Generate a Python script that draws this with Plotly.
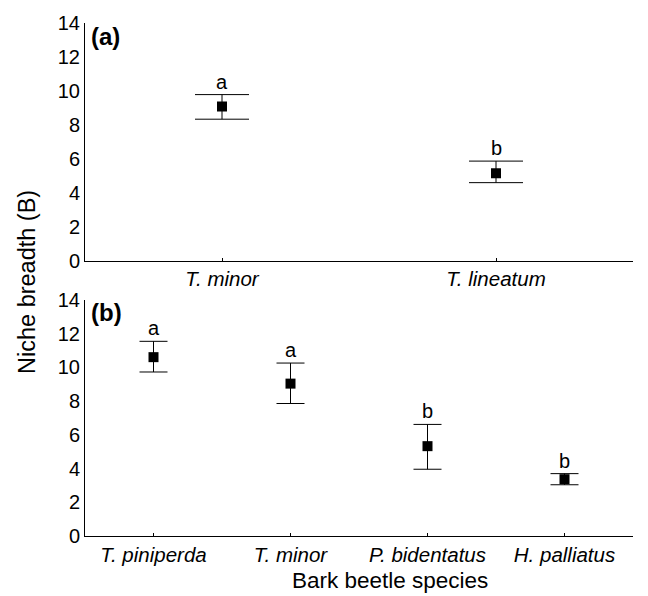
import plotly.graph_objects as go

# Panel (a)
cats_a = ["T. minor", "T. lineatum"]
mean_a = [9.08, 5.15]
upper_a = [9.78, 5.86]
lower_a = [8.33, 4.59]
letters_a = ["a", "b"]

# Panel (b)
cats_b = ["T. piniperda", "T. minor", "P. bidentatus", "H. palliatus"]
mean_b = [10.61, 9.04, 5.33, 3.37]
upper_b = [11.55, 10.26, 6.62, 3.70]
lower_b = [9.73, 7.86, 3.96, 3.04]
letters_b = ["a", "a", "b", "b"]

y_ticks = [0, 2, 4, 6, 8, 10, 12, 14]

FONT = "Liberation Sans, Arial, sans-serif"

fig = go.Figure()

def add_panel(cats, mean, upper, lower, xa, ya, capw):
    fig.add_trace(go.Scatter(
        x=list(range(len(cats))), y=mean, mode="markers",
        marker=dict(symbol="square", size=10, color="black"),
        error_y=dict(type="data", symmetric=False,
                     array=[u - m for u, m in zip(upper, mean)],
                     arrayminus=[m - l for m, l in zip(mean, lower)],
                     color="black", thickness=1, width=capw),
        xaxis=xa, yaxis=ya, showlegend=False, hoverinfo="skip"))

add_panel(cats_a, mean_a, upper_a, lower_a, "x", "y", 27)
add_panel(cats_b, mean_b, upper_b, lower_b, "x2", "y2", 14)

ax_common = dict(showline=True, linecolor="black", linewidth=1, showgrid=False,
                 zeroline=False, mirror=False)

fig.update_layout(
    width=648, height=596,
    margin=dict(l=85, r=15, t=21, b=60),
    paper_bgcolor="white", plot_bgcolor="white",
    font=dict(family=FONT, color="black"),
    xaxis=dict(domain=[0, 1], anchor="y", range=[-0.5, 1.5],
               tickvals=list(range(len(cats_a))), ticktext=cats_a,
               ticks="inside", ticklen=3, tickcolor="black",
               tickfont=dict(size=20.5, family=FONT, style="italic"), **ax_common),
    yaxis=dict(domain=[0.537, 1.0], anchor="x", range=[0, 14],
               tickvals=y_ticks, ticks="", tickfont=dict(size=20, family=FONT),
               **ax_common),
    xaxis2=dict(domain=[0, 1], anchor="y2", range=[-0.5, 3.5],
                tickvals=list(range(len(cats_b))), ticktext=cats_b,
                ticks="inside", ticklen=3, tickcolor="black",
                tickfont=dict(size=20.5, family=FONT, style="italic"), **ax_common),
    yaxis2=dict(domain=[0.0, 0.46], anchor="x2", range=[0, 14],
                tickvals=y_ticks, ticks="", tickfont=dict(size=20, family=FONT),
                **ax_common),
)

annotations = []
for i, (u, t) in enumerate(zip(upper_a, letters_a)):
    annotations.append(dict(x=i, y=u, xref="x", yref="y", text=t, showarrow=False,
                            yanchor="bottom", yshift=0, font=dict(size=20, family=FONT)))
for i, (u, t) in enumerate(zip(upper_b, letters_b)):
    annotations.append(dict(x=i, y=u, xref="x2", yref="y2", text=t, showarrow=False,
                            yanchor="bottom", yshift=0, font=dict(size=20, family=FONT)))

annotations += [
    dict(text="<b>(a)</b>", x=0.008, y=0.973, xref="paper", yref="paper",
         xanchor="left", yanchor="middle", showarrow=False, font=dict(size=24, family=FONT)),
    dict(text="<b>(b)</b>", x=0.008, y=0.435, xref="paper", yref="paper",
         xanchor="left", yanchor="middle", showarrow=False, font=dict(size=24, family=FONT)),
    dict(text="Bark beetle species", x=0.557, y=0, xref="paper", yref="paper",
         xanchor="center", yanchor="middle", yshift=-44, showarrow=False,
         font=dict(size=22.5, family=FONT)),
    dict(text="Niche breadth (B)", x=-0.106, y=0.495, xref="paper", yref="paper",
         xanchor="center", yanchor="middle", textangle=-90, showarrow=False,
         font=dict(size=23.5, family=FONT)),
]
fig.update_layout(annotations=annotations)

fig.write_html("out.html")
